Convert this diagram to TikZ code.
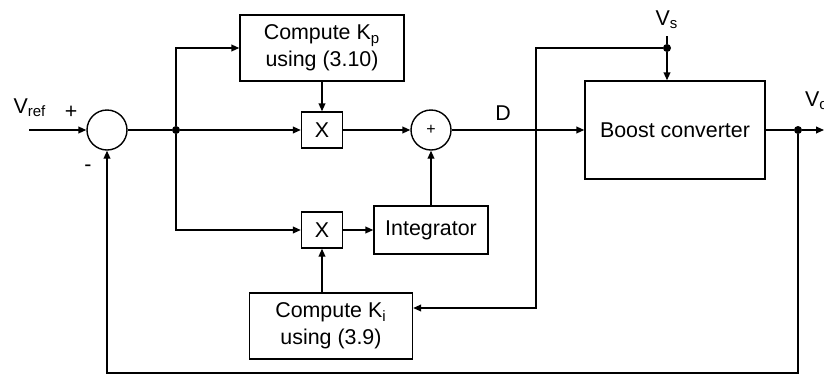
\documentclass[tikz,border=0pt]{standalone}
\usepackage{fontspec}
\setmainfont{Liberation Sans}
\usetikzlibrary{arrows.meta, positioning, calc}

\begin{document}
\begin{tikzpicture}[
    x=0.5pt, y=-0.5pt,
    every node/.style={font=\fontsize{10.7}{13.5}\selectfont},
    blk/.style={draw, line width=0.7pt, align=center, inner sep=2pt},
    mulbox/.style={blk, minimum width=20.5pt, minimum height=18pt},
    sumc/.style={draw, circle, line width=0.7pt, minimum size=20pt, inner sep=0pt},
    jdot/.style={circle, fill, inner sep=0pt, minimum size=4pt},
    arr/.style={-{Triangle[length=4pt, width=3.4pt]}, line width=0.7pt},
    ln/.style={line width=0.7pt},
  ]
  \useasboundingbox (0,0) rectangle (824,376);

  \node[sumc] (sum) at (107,130) {};
  \node[jdot] (jn) at (176,130) {};
  \node[blk, minimum width=82pt, minimum height=33pt] (kp) at (322,48)
    {Compute K\textsubscript{p}\\using (3.10)};
  \node[mulbox] (mulp) at (322,130) {X};
  \node[sumc] (add) at (431,130) {\fontsize{8}{8}\selectfont +};
  \node[mulbox] (muli) at (322,230) {X};
  \node[blk, minimum width=57pt, minimum height=24pt] (integ) at (431,230) {Integrator};
  \node[blk, minimum width=81.5pt, minimum height=33pt] (ki) at (331,326)
    {Compute K\textsubscript{i}\\using (3.9)};
  \node[blk, minimum width=90pt, minimum height=49pt] (boost) at (675,130) {Boost converter};
  \node[jdot] (vsdot) at (667,48) {};
  \node[jdot] (odot) at (798,130) {};
  \coordinate (vin) at (29,130);
  \coordinate (vout) at (824,130);
  \coordinate (fb) at (798,373);
  \coordinate (vsturn) at (536,308);

  % signal labels
  \node (vref) at (30,108) {V\textsubscript{ref}};
  \node (vs) at (667,20) {V\textsubscript{s}};
  \node[anchor=west] (vo) at (798,101) {V\textsubscript{o}};
  \node (dlab) at (503,113) {D};
  \node (pl) at (71,112) {+};
  \node (mi) at (88,168) {-};

  \draw[arr] (vin) -- (sum.west);
  \draw[ln] (sum.east) -- (jn);
  \draw[arr] (jn) |- (kp.west);
  \draw[arr] (jn) -- (mulp.west);
  \draw[arr] (jn) |- (muli.west);
  \draw[arr] (kp.south) -- (mulp.north);
  \draw[arr] (mulp.east) -- (add.west);
  \draw[arr] (muli.east) -- (integ.west);
  \draw[arr] (integ.north) -- (add.south);
  \draw[arr] (ki.north -| muli) -- (muli.south);
  \draw[arr] (add.east) -- (boost.west);
  \draw[ln] (vs) -- (vsdot);
  \draw[arr] (vsdot) -- (boost.north -| vsdot);
  \draw[arr] (vsdot) -| (vsturn) -- (ki.east |- vsturn);
  \draw[ln] (boost.east) -- (odot);
  \draw[arr] (odot) -- (vout);
  \draw[arr] (odot) -- (fb) -| (sum.south);
\end{tikzpicture}
\end{document}
